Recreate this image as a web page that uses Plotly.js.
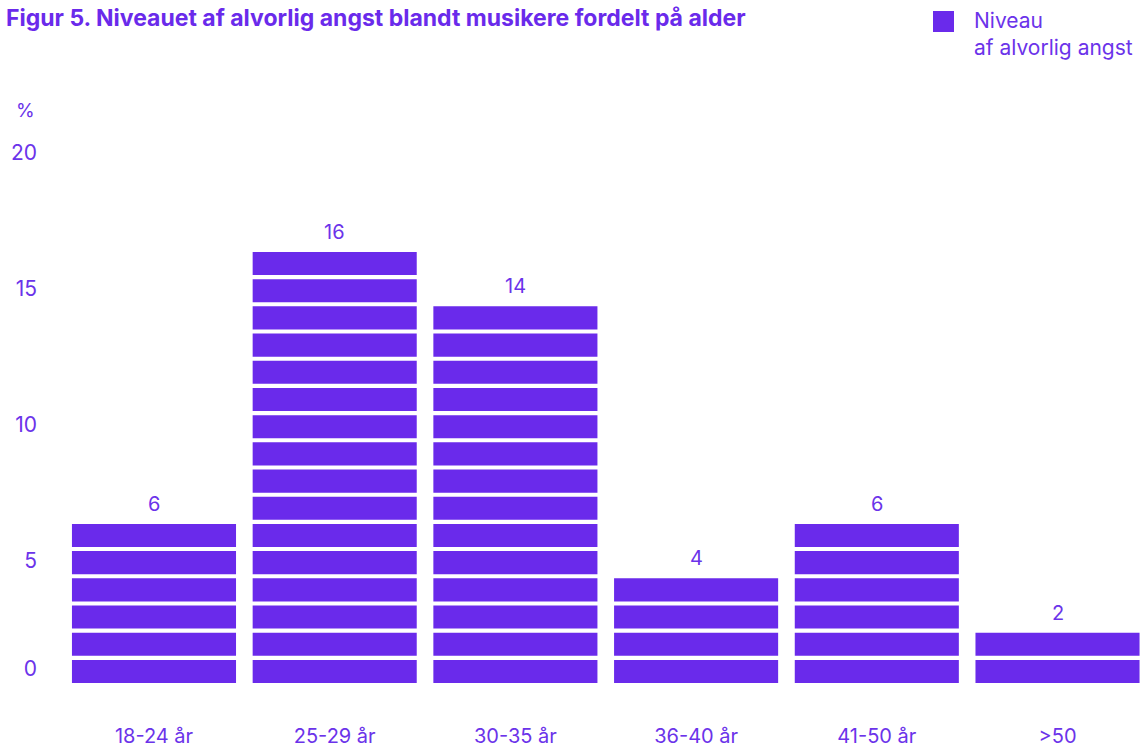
<!DOCTYPE html>
<html>
<head>
<meta charset="utf-8">
<script src="https://cdn.plot.ly/plotly-3.0.1.min.js"></script>
<style>html,body{margin:0;padding:0;background:#fff;}#chart{width:1141px;height:749px;}</style>
</head>
<body>
<div id="chart"></div>
<script>
// Data
var categories = ["18-24 år", "25-29 år", "30-35 år", "36-40 år", "41-50 år", ">50"];
var values = [6, 16, 14, 4, 6, 2];
var yTickValues = [0, 5, 10, 15, 20];
var seriesName = "Niveau<br>af alvorlig angst";
var titleText = "Figur 5. Niveauet af alvorlig angst blandt musikere fordelt på alder";
var unitLabel = "%";

var PURPLE = "#6A2AEB";
var TEXT = "#6B33EA";
var FONT = "Inter, 'Noto Sans', sans-serif";

// Build one bar segment per unit of each value
var segX = [], segBase = [], segY = [];
categories.forEach(function (c, i) {
  for (var k = 0; k < values[i]; k++) {
    segX.push(c);
    segBase.push(k);
    segY.push(0.85);
  }
});

var traces = [{
  type: "bar",
  x: segX,
  y: segY,
  base: segBase,
  marker: { color: PURPLE, line: { width: 0 } },
  hoverinfo: "skip",
  showlegend: false
}, {
  // empty helper trace so the label axis is drawn
  type: "scatter", x: [], y: [], yaxis: "y2", hoverinfo: "skip", showlegend: false
}];

var annotations = categories.map(function (c, i) {
  return {
    x: c, y: values[i], xref: "x", yref: "y",
    text: String(values[i]), showarrow: false,
    yanchor: "bottom", yshift: 2,
    font: { family: FONT, size: 20, color: TEXT }
  };
});
annotations.push({
  xref: "paper", yref: "paper", x: 0, y: 1.0, xanchor: "right", yanchor: "bottom",
  xshift: -27, yshift: -8,
  text: unitLabel, showarrow: false,
  font: { family: FONT, size: 19, color: TEXT }
});
// legend text
annotations.push({
  xref: "paper", yref: "paper", x: (972 - 64) / 1077, y: (683 - 6) / 567,
  xanchor: "left", yanchor: "top",
  text: seriesName, showarrow: false, align: "left",
  font: { family: FONT, size: 21, color: TEXT }
});

var layout = {
  width: 1141, height: 749,
  paper_bgcolor: "#fff", plot_bgcolor: "#fff",
  margin: { l: 64, r: 0, t: 116, b: 66 },
  title: {
    text: "<b>" + titleText + "</b>",
    x: 0, xref: "container", xanchor: "left", y: 1, yref: "container", yanchor: "top",
    pad: { t: 10, l: 6 },
    font: { family: FONT, size: 23, color: PURPLE }
  },
  barmode: "overlay",
  bargap: 0.092,
  xaxis: {
    type: "category",
    categoryorder: "array", categoryarray: categories,
    range: [-0.498, 5.462],
    showgrid: false, zeroline: false, showline: false, ticks: "",
    ticklabelstandoff: 39,
    tickfont: { family: FONT, size: 20, color: TEXT },
    fixedrange: true
  },
  yaxis: {
    range: [0, 20.85],
    tickvals: yTickValues.filter(function (v) { return v === 0; }),
    ticktext: yTickValues.filter(function (v) { return v === 0; }).map(String),
    ticklabelposition: "outside top",
    showgrid: false, zeroline: false, showline: false, ticks: "",
    ticklabelstandoff: 26,
    tickfont: { family: FONT, size: 21, color: TEXT },
    fixedrange: true
  },
  yaxis2: {
    overlaying: "y", side: "left", anchor: "x",
    range: [0.49, 21.34],
    tickvals: yTickValues.filter(function (v) { return v > 0; }),
    ticktext: yTickValues.filter(function (v) { return v > 0; }).map(String),
    showgrid: false, zeroline: false, showline: false, ticks: "",
    ticklabelstandoff: 26,
    tickfont: { family: FONT, size: 21, color: TEXT },
    fixedrange: true
  },
  shapes: [{
    type: "rect", xref: "paper", yref: "paper",
    x0: (933 - 64) / 1077, x1: (954 - 64) / 1077,
    y0: (683 - 32) / 567, y1: (683 - 11) / 567,
    fillcolor: PURPLE, line: { width: 0 }
  }],
  annotations: annotations,
  showlegend: false
};

Plotly.newPlot("chart", traces, layout, { displayModeBar: false, staticPlot: true });
</script>
</body>
</html>
